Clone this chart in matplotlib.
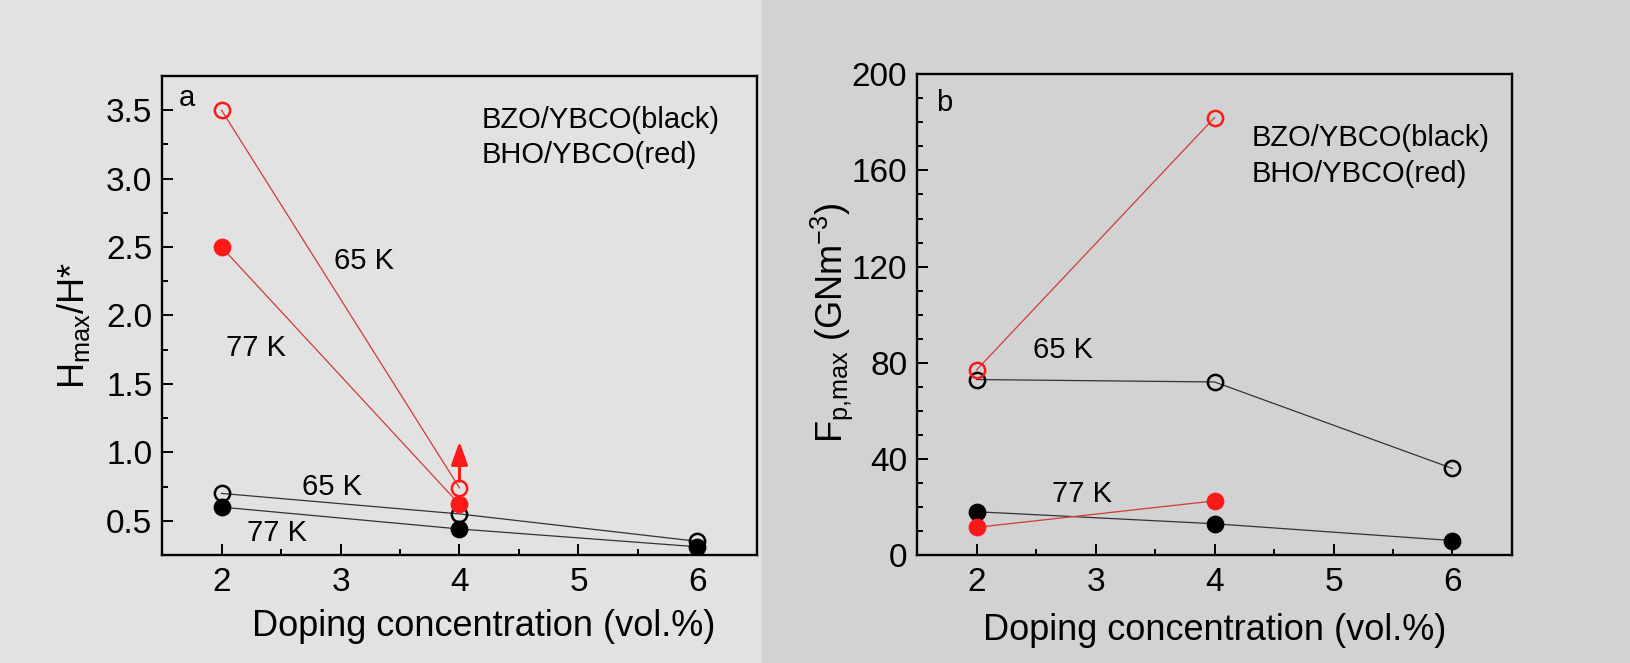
import matplotlib
matplotlib.use("Agg")
import matplotlib.pyplot as plt
from matplotlib.ticker import MultipleLocator
from matplotlib.patches import Rectangle

plt.rcParams['font.family'] = ['Liberation Sans', 'DejaVu Sans']
plt.rcParams['mathtext.fontset'] = 'custom'
plt.rcParams['mathtext.rm'] = 'Liberation Sans'
plt.rcParams['mathtext.it'] = 'Liberation Sans:italic'

# doping level (vol.%)
doping = [2, 4, 6]
doping_bho = [2, 4]

# panel a: Hmax/H*
bzo_65_h = [0.70, 0.55, 0.35]
bzo_77_h = [0.60, 0.44, 0.31]
bho_65_h = [3.50, 0.74]
bho_77_h = [2.50, 0.62]
arrow_top_h = 1.08

# panel b: Fp,max (GN/m^3)
bzo_65_fp = [73, 72, 36]
bzo_77_fp = [18, 13, 6]
bho_65_fp = [77, 182]
bho_77_fp = [11.5, 22.5]

RED = '#ff1a1a'
ms = 11

fig = plt.figure(figsize=(16.3, 6.63), dpi=100)
fig.patch.set_facecolor('#e2e2e2')
# scanned page has a darker strip on the right half
fig.patches.append(Rectangle((0.4675, 0), 0.5325, 1, transform=fig.transFigure,
                             facecolor='#d2d2d2', edgecolor='none', zorder=-10))

axa = fig.add_axes([0.0994, 0.1629, 0.3650, 0.7225])
axb = fig.add_axes([0.5626, 0.1629, 0.3650, 0.7250])


def series(ax, x, y, color, filled, lc):
    ax.plot(x, y, '-', color=lc, lw=0.9, zorder=2)
    ax.plot(x, y, 'o', ms=ms, mec=color, mew=1.8,
            mfc=color if filled else 'none', zorder=3, ls='none')


for ax in (axa, axb):
    ax.set_facecolor('none')
    ax.set_xlim(1.5, 6.5)
    ax.xaxis.set_major_locator(MultipleLocator(1))
    ax.xaxis.set_minor_locator(MultipleLocator(0.5))
    ax.tick_params(which='both', direction='in', top=False, right=False,
                   width=1.4, labelsize=24, pad=7)
    ax.tick_params(axis='x', which='both', pad=9)
    ax.tick_params(which='major', length=8)
    ax.tick_params(which='minor', length=4.5)
    for s in ax.spines.values():
        s.set_linewidth(1.7)
    ax.set_xlabel('Doping concentration (vol.%)', fontsize=26)

# panel a
series(axa, doping, bzo_65_h, 'black', False, '#333333')
series(axa, doping, bzo_77_h, 'black', True, '#333333')
series(axa, doping_bho, bho_65_h, RED, False, '#d23a3a')
series(axa, doping_bho, bho_77_h, RED, True, '#d23a3a')
axa.annotate('', xy=(4, arrow_top_h), xytext=(4, bho_65_h[1] + 0.05),
             arrowprops=dict(arrowstyle='-|>,head_length=0.7,head_width=0.25',
                             color=RED, lw=2.2, mutation_scale=20,
                             shrinkA=0, shrinkB=0), zorder=4)
axa.set_ylim(0.25, 3.75)
axa.yaxis.set_major_locator(MultipleLocator(0.5))
axa.yaxis.set_minor_locator(MultipleLocator(0.25))
axa.set_ylabel(r'H$_{\mathrm{max}}$/H*', fontsize=26)
axa.text(1.71, 3.59, 'a', fontsize=21, ha='center', va='center')
axa.text(3.2, 2.40, '65 K', fontsize=21, ha='center', va='center')
axa.text(2.29, 1.76, '77 K', fontsize=21, ha='center', va='center')
axa.text(2.93, 0.75, '65 K', fontsize=21, ha='center', va='center')
axa.text(2.47, 0.41, '77 K', fontsize=21, ha='center', va='center')
axa.text(4.19, 3.43, 'BZO/YBCO(black)', fontsize=21, ha='left', va='center')
axa.text(4.19, 3.17, 'BHO/YBCO(red)', fontsize=21, ha='left', va='center')

# panel b
series(axb, doping, bzo_65_fp, 'black', False, '#333333')
series(axb, doping, bzo_77_fp, 'black', True, '#333333')
series(axb, doping_bho, bho_65_fp, RED, False, '#d23a3a')
series(axb, doping_bho, bho_77_fp, RED, True, '#d23a3a')
axb.set_ylim(0, 200)
axb.yaxis.set_major_locator(MultipleLocator(40))
axb.yaxis.set_minor_locator(MultipleLocator(10))
axb.set_ylabel(r'F$_{\mathrm{p{,}max}}$ (GNm$^{-3}$)', fontsize=26)
axb.text(1.73, 188, 'b', fontsize=21, ha='center', va='center')
axb.text(2.73, 85.5, '65 K', fontsize=21, ha='center', va='center')
axb.text(2.89, 25.5, '77 K', fontsize=21, ha='center', va='center')
axb.text(4.31, 173.5, 'BZO/YBCO(black)', fontsize=21, ha='left', va='center')
axb.text(4.31, 158.7, 'BHO/YBCO(red)', fontsize=21, ha='left', va='center')

axa.xaxis.set_label_coords(0.541, -0.112)
axb.xaxis.set_label_coords(0.501, -0.12)
axa.yaxis.set_label_coords(-0.118, 0.478)
axb.yaxis.set_label_coords(-0.104, 0.484)

fig.savefig('out.png', dpi=100, facecolor=fig.get_facecolor())
